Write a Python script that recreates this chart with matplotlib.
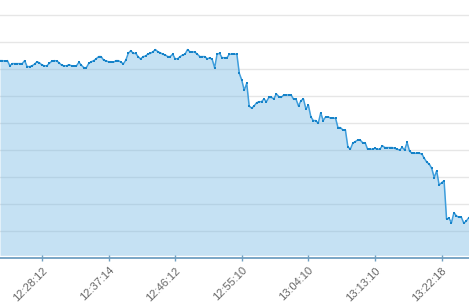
import matplotlib
matplotlib.use("Agg")
import matplotlib.pyplot as plt
import numpy as np

# one sample roughly every 20 s (gridlines every 10 units)
values = [
    73.2, 73.2, 73.0, 73.2, 71.3, 72.1, 72.1, 72.1, 72.1, 72.1,
    73.2, 71.0, 71.0, 71.3, 71.9, 72.8, 72.4, 71.6, 71.3, 71.3,
    72.2, 73.0, 73.2, 73.1, 72.4, 71.5, 71.3, 71.3, 71.7, 71.3,
    71.3, 71.3, 72.6, 71.5, 70.6, 70.6, 72.2, 72.8, 73.2, 73.9,
    74.7, 74.7, 73.4, 73.1, 72.8, 72.8, 72.6, 73.2, 73.2, 72.7,
    72.0, 73.4, 75.9, 76.9, 75.9, 75.9, 74.7, 73.8, 74.7, 74.9,
    75.7, 75.9, 76.5, 77.3, 76.5, 76.1, 75.6, 75.3, 74.7, 74.7,
    75.6, 73.9, 73.9, 74.7, 75.3, 75.6, 77.3, 76.5, 76.5, 76.3,
    75.6, 74.7, 74.7, 74.7, 73.9, 74.2, 73.7, 70.6, 75.6, 75.9,
    74.3, 74.3, 74.3, 75.6, 75.6, 75.6, 75.6, 68.5, 66.0, 62.2,
    64.8, 56.4, 55.6, 56.4, 57.6, 58.0, 58.0, 59.0, 58.0, 59.6,
    59.6, 59.0, 60.9, 59.9, 59.6, 60.5, 60.5, 60.5, 60.5, 58.9,
    58.9, 56.4, 58.4, 59.0, 55.3, 56.7, 52.4, 51.0, 51.0, 50.0,
    53.9, 51.0, 52.4, 52.4, 51.9, 51.9, 51.9, 48.4, 48.4, 47.5,
    47.5, 41.3, 40.4, 42.6, 43.2, 43.8, 43.8, 42.8, 42.8, 40.4,
    40.4, 40.4, 40.7, 40.4, 40.4, 41.7, 41.0, 41.0, 41.0, 41.0,
    40.7, 40.4, 40.1, 41.1, 40.1, 42.9, 39.7, 38.9, 38.9, 38.9,
    38.9, 38.6, 37.0, 35.6, 34.9, 33.3, 29.9, 32.4, 27.1, 28.0,
    28.7, 14.6, 14.8, 13.2, 16.9, 15.7, 15.2, 15.2, 13.0, 13.8,
    15.0,
]
tick_index = [17, 44, 71, 98, 125, 152, 179]
tick_labels = ["12:28:12", "12:37:14", "12:46:12", "12:55:10",
               "13:04:10", "13:13:10", "13:22:18"]
grid_values = [10, 20, 30, 40, 50, 60, 70, 80, 90]

FILL_BASE = 1.1
AXIS_C = "#6f9fc1"

x = np.arange(len(values))

fig = plt.figure(figsize=(4.69, 3.08), dpi=100)
ax = fig.add_axes([0, 0.1614, 1, 0.8386])
ax.set_xlim(0, 190.1)
ax.set_ylim(0, 95.67)

for g in grid_values:
    ax.axhline(g, color="#e6e6e6", lw=1, zorder=0)

ax.fill_between(x, FILL_BASE, values, color="#70b4e3", alpha=0.4, lw=0, zorder=1)
ax.plot(x, values, color="#3f9edc", lw=1.1, marker="s", markersize=1.9,
        markerfacecolor="#1582c8", markeredgewidth=0, zorder=2)

for s in ["top", "left", "right"]:
    ax.spines[s].set_visible(False)
ax.spines["bottom"].set_color(AXIS_C)
ax.spines["bottom"].set_linewidth(1.3)
ax.set_yticks([])

ax.set_xticks(tick_index)
ax.set_xticklabels(tick_labels, rotation=45, ha="right", va="top",
                   rotation_mode="anchor", fontsize=8, color="#666666",
                   family="Liberation Sans")
ax.tick_params(axis="x", direction="inout", length=4, width=1,
               color=AXIS_C, pad=3)

fig.savefig("out.png")
